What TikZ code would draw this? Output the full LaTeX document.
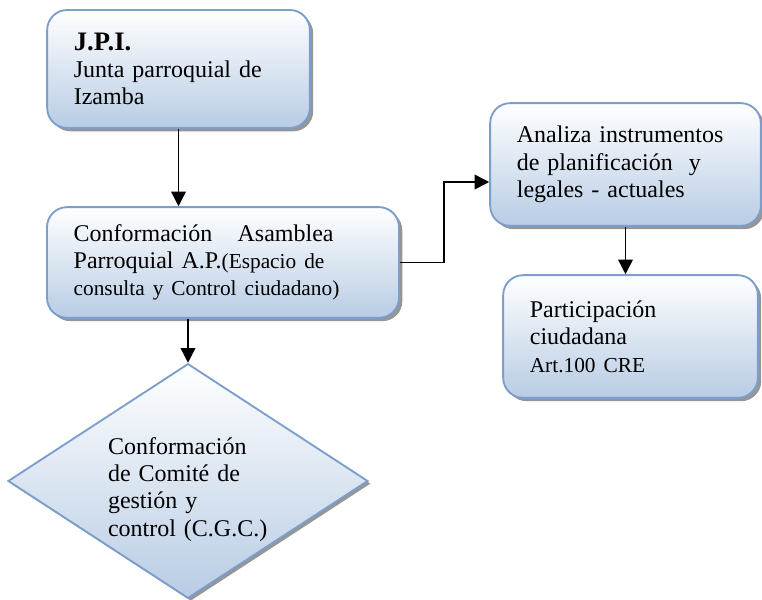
\documentclass[tikz,border=0pt]{standalone}
\usepackage{fontspec}
\setmainfont{Liberation Serif}
\usepackage{tikz}
\usetikzlibrary{shapes.geometric, arrows.meta, shadows}
\usepackage{xcolor}
\definecolor{bordeazul}{RGB}{124,158,204}
\definecolor{fondoazul}{RGB}{184,204,228}
\definecolor{sombra}{RGB}{150,150,150}

\tikzset{
  caja/.style={rectangle, rounded corners=15pt, draw=bordeazul, line width=1.4pt,
    top color=white, bottom color=fondoazul, inner xsep=20pt, inner ysep=0pt,
    align=left, font=\fontsize{18}{20.5}\selectfont,
    general shadow={fill=sombra, shadow xshift=2.5pt, shadow yshift=-2.5pt}},
  rombo/.style={diamond, draw=bordeazul, line width=1.4pt, inner sep=0pt,
    top color=white, bottom color=fondoazul, shape aspect=1.53,
    minimum width=270pt, minimum height=176pt, align=left, text width=120pt,
    font=\fontsize{18}{20.5}\selectfont,
    general shadow={fill=sombra, shadow xshift=2pt, shadow yshift=-2pt}},
  flecha/.style={-{Triangle[width=11pt,length=11pt]}, line width=1.1pt, black}
}

\begin{document}
\begin{tikzpicture}[x=0.75pt, y=-0.75pt]
  \useasboundingbox (0,0) rectangle (762,599);

  % cajas
  \node[caja, text width=157pt, minimum height=88.5pt] (jpi) at (178.5,69)
    {{\fontsize{20}{22}\selectfont\bfseries J.P.I.}\\Junta parroquial de\\Izamba};
  \node[caja, text width=224pt, minimum height=83pt] (asam) at (223,262.5)
    {Conformación\hspace{13pt} Asamblea\\Parroquial A.P.{\fontsize{16}{20}\selectfont(Espacio de}\\
     {\fontsize{16}{20}\selectfont consulta y Control ciudadano)}};
  \node[caja, text width=163pt, minimum height=92pt] (anal) at (625.5,164.5)
    {Analiza instrumentos\\de planificación\ \ y\\legales - actuales};
  \node[caja, text width=151pt, minimum height=92pt] (part) at (630.5,336.5)
    {Participación\\ciudadana\\{\fontsize{16}{20}\selectfont Art.100 CRE}};
  \node[rombo] (cgc) at (188,481)
    {\rule{0pt}{25pt}Conformación\\de Comité de\\gestión y\\control (C.G.C.)};

  % flechas
  \coordinate (codo) at (444,182);
  \draw[flecha] (jpi.south) -- (jpi.south |- asam.north);
  \draw[flecha] (asam.south -| cgc.north) -- (cgc.north);
  \draw[flecha] (asam.east) -| (codo) -- (codo -| anal.west);
  \draw[flecha] (anal.south) -- (anal.south |- part.north);
\end{tikzpicture}
\end{document}
